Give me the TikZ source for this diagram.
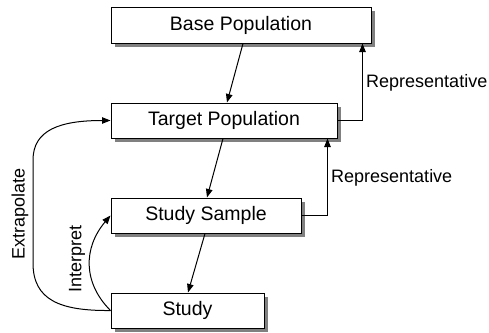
\documentclass[tikz,border=0pt]{standalone}
\usepackage{fontspec}
\setmainfont{Liberation Sans}
\usetikzlibrary{shadows,calc,arrows.meta}

\tikzset{
  popbox/.style={draw=black, line width=1pt, fill=white, inner sep=0pt,
    text height=14pt, text depth=4pt,
    font=\fontsize{19.5}{22}\selectfont,
    drop shadow={shadow xshift=3.5pt, shadow yshift=-3.5pt, fill=black!50, opacity=1}},
  link/.style={draw=black, line width=1pt, -{Triangle[length=8.5pt,width=6.5pt]}},
  tag/.style={inner sep=0pt, font=\fontsize{18}{21}\selectfont}
}

\begin{document}
\begin{tikzpicture}[x=1pt, y=-1pt]
  \useasboundingbox (0,0) rectangle (489,332);

  % population boxes
  \node[popbox, minimum width=260pt, minimum height=36pt] (base)   at (241,25)    {Base Population};
  \node[popbox, minimum width=226pt, minimum height=35pt] (target) at (224,120.5) {Target Population};
  \node[popbox, minimum width=190pt, minimum height=35pt] (sample) at (206,215.5) {Study Sample};
  \node[popbox, minimum width=153pt, minimum height=35pt] (study)  at (187.5,310.5) {Study};

  % downward chain
  \draw[link] ($(base.south)+(2,0)$) -- ($(target.north)+(3,0)$);
  \draw[link] ($(target.south)+(-1,0)$) -- ($(sample.north)+(1,0)$);
  \draw[link] ($(sample.south)+(-1,0)$) -- ($(study.north)+(0.5,0)$);

  % representativeness links
  \draw[link] (target.east) -| ($(base.south east)+(-9,0)$);
  \draw[link] (sample.east) -| ($(target.south east)+(-10,0)$);
  \node[tag, anchor=west] (rep1) at (366,83) {Representative};
  \node[tag, anchor=west] (rep2) at (331,178) {Representative};

  % inference back from the study
  \draw[link] (study.west) .. controls (60,311) and (33,300) .. (33,263)
    -- (33,160) .. controls (33,130) and (60,120.5) .. (target.west);
  \draw[link] (study.west) .. controls (83,283) and (83,248) .. (sample.west);
  \node[tag, rotate=90] (extra) at (20,214) {Extrapolate};
  \node[tag, rotate=90] (interp) at (77,259) {Interpret};
\end{tikzpicture}
\end{document}
